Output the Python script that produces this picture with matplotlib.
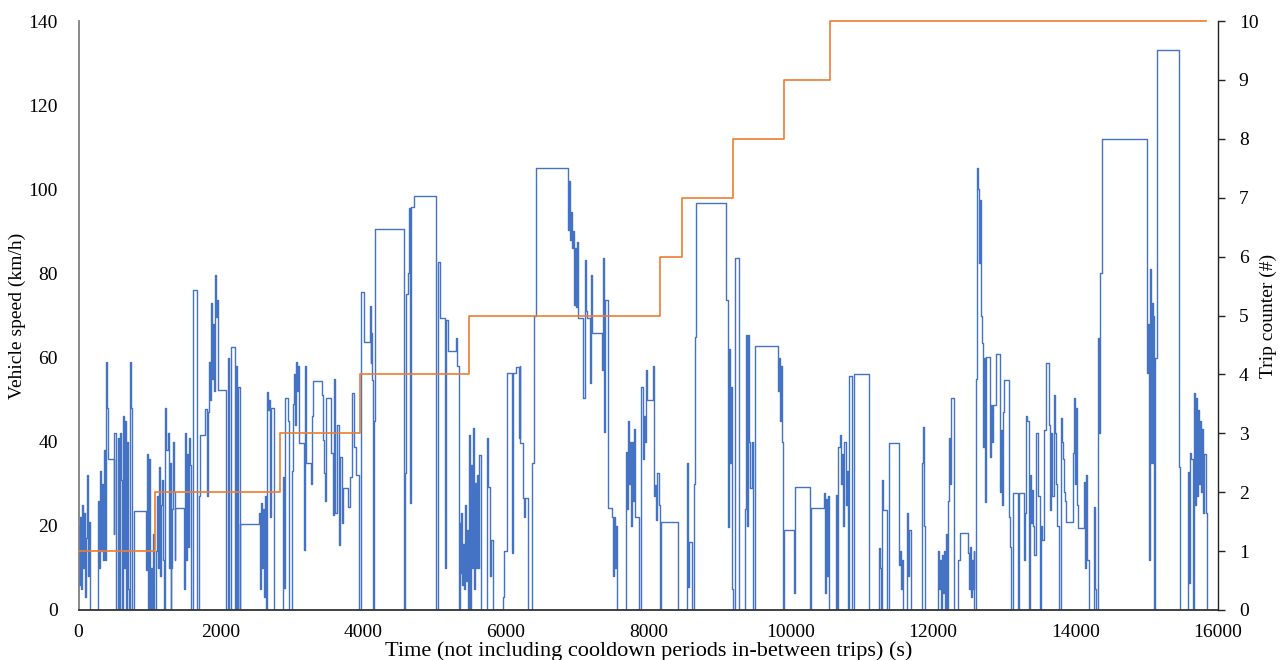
import numpy as np
import matplotlib
matplotlib.use("Agg")
import matplotlib.pyplot as plt

plt.rcParams['font.family'] = ['Liberation Serif', 'DejaVu Serif']

# speed samples per trip: (time s, speed km/h), drawn as steps
trip1 = [(0, 20), (14, 6), (28, 22), (42, 5), (56, 25), (70, 10), (84, 23), (98, 3), (112, 17),
         (126, 32), (140, 8), (154, 21), (168, 0), (268, 26), (282, 10), (296, 33), (310, 14),
         (324, 30), (338, 12), (352, 38), (368, 12), (382, 59), (396, 48), (410, 36), (492, 18),
         (500, 42), (520, 8), (530, 0), (555, 41), (570, 0), (580, 42), (596, 31), (610, 0),
         (625, 46), (640, 10), (655, 45), (670, 0), (685, 40), (700, 5), (712, 0), (725, 59),
         (740, 48), (755, 0), (782, 23.5), (950, 9.5), (963, 37), (975, 0), (990, 36), (1003, 0),
         (1015, 10), (1028, 0), (1040, 18), (1060, 0)]
trip2 = [(1075, 0), (1090, 14), (1105, 27), (1118, 10), (1130, 34), (1145, 8), (1160, 25),
         (1175, 31), (1190, 12), (1205, 0), (1220, 48), (1235, 38), (1250, 42), (1265, 10),
         (1280, 35), (1292, 0), (1300, 10), (1312, 24), (1325, 40), (1338, 28), (1350, 12),
         (1362, 24.2), (1475, 5), (1490, 42), (1505, 12), (1520, 37), (1535, 15), (1550, 41),
         (1565, 34.5), (1580, 0), (1612, 76), (1668, 0), (1690, 27), (1705, 41.5), (1770, 47.8),
         (1800, 27), (1815, 47), (1835, 59), (1850, 50), (1862, 73), (1876, 55), (1890, 68),
         (1904, 52), (1918, 79.6), (1932, 69.7), (1946, 73.7), (1960, 52.3), (2075, 0),
         (2095, 60), (2120, 0), (2135, 62.6), (2195, 0), (2210, 58), (2222, 15), (2232, 0),
         (2245, 53), (2262, 0), (2272, 20.4), (2540, 23), (2553, 5), (2566, 25.4), (2579, 10),
         (2592, 24), (2605, 3), (2618, 27), (2632, 0), (2645, 51.8), (2658, 47.5), (2672, 50),
         (2686, 22), (2700, 48), (2740, 0)]
trip3 = [(2877, 31.7), (2892, 5.2), (2905, 50.4), (2935, 45), (2962, 0), (3000, 33), (3013, 49),
         (3027, 56), (3041, 44), (3055, 59), (3069, 52), (3083, 58), (3097, 39.7), (3169, 14.3),
         (3182, 58), (3196, 35), (3262, 30), (3278, 46), (3295, 54.5), (3421, 51), (3435, 40.4),
         (3450, 32.5), (3464, 26), (3478, 50.4), (3550, 37.3), (3575, 22.6), (3590, 55),
         (3605, 23), (3632, 44), (3660, 15.4), (3674, 36.4), (3700, 20.6), (3716, 29),
         (3787, 24.5), (3815, 31.7), (3845, 51.6), (3870, 38.8), (3900, 32), (3940, 0)]
trip4 = [(3970, 75.6), (4005, 63.7), (4095, 72.3), (4105, 58.7), (4112, 65.8), (4120, 54.7),
         (4130, 0), (4150, 45), (4170, 90.5), (4570, 0), (4580, 32.6), (4600, 75), (4620, 80),
         (4640, 95.5), (4655, 25.4), (4670, 95.8), (4715, 98.4), (5020, 0), (5045, 82.7),
         (5080, 69.4), (5150, 10), (5165, 69), (5185, 61.6), (5300, 64.7), (5315, 58), (5336, 0),
         (5350, 20.7), (5362, 8.7), (5375, 23), (5388, 6), (5400, 15.8), (5413, 5), (5426, 25),
         (5440, 7), (5453, 19), (5470, 0)]
trip5 = [(5487, 41.6), (5500, 0), (5513, 34.5), (5527, 10), (5541, 43.3), (5555, 5), (5569, 30.2),
         (5585, 10), (5599, 32), (5613, 10), (5627, 36.9), (5645, 0), (5739, 41), (5753, 29.3),
         (5782, 8), (5796, 16.6), (5815, 0), (5955, 3), (5975, 14), (6015, 56.3), (6091, 13.5),
         (6105, 56.3), (6150, 57.8), (6185, 41), (6195, 58), (6205, 39.7), (6245, 26.6),
         (6255, 22), (6265, 26.6), (6315, 0), (6370, 35), (6400, 70), (6425, 105), (6873, 90.3),
         (6887, 102), (6900, 88), (6914, 94.6), (6928, 86), (6942, 90), (6952, 72.5), (6966, 86),
         (6980, 72), (6994, 87.5), (7008, 70), (7020, 69.4), (7090, 50.4), (7105, 83.2),
         (7120, 71), (7140, 69.4), (7185, 54), (7200, 79.6), (7210, 65.8), (7350, 57),
         (7365, 83.7), (7380, 42.3), (7395, 73.7), (7440, 24.2), (7497, 22), (7510, 8),
         (7523, 22), (7536, 10), (7550, 20), (7565, 0), (7690, 37.6), (7703, 24), (7716, 45),
         (7730, 30), (7745, 40), (7760, 20), (7775, 40), (7790, 26), (7805, 43), (7820, 22),
         (7875, 0), (7900, 53), (7920, 36), (7935, 46), (7950, 40), (7965, 57), (7985, 50),
         (8072, 58), (8082, 27), (8095, 29.7), (8110, 21.4), (8125, 32.6), (8150, 25), (8165, 0)]
trip6 = [(8180, 21), (8420, 0)]
trip7 = [(8545, 35), (8560, 5.5), (8575, 16.2), (8615, 0), (8640, 30), (8655, 65), (8672, 96.7),
         (9085, 73.7), (9115, 19.8), (9130, 62), (9145, 35), (9160, 53), (9175, 5), (9190, 0)]
trip8 = [(9224, 83.7), (9270, 0), (9360, 24), (9375, 65.4), (9390, 20), (9400, 65.4), (9420, 40),
         (9435, 29), (9450, 40), (9470, 0), (9505, 62.8), (9818, 52), (9832, 60), (9846, 45),
         (9860, 58), (9875, 40), (9890, 0)]
trip9 = [(9905, 19), (10043, 4), (10060, 29.3), (10277, 0), (10291, 24.2), (10464, 27.8),
         (10478, 4), (10492, 26.4), (10506, 8), (10520, 27), (10535, 0)]
trip10 = [(10630, 27.3), (10645, 0), (10660, 38.7), (10690, 41.6), (10710, 30), (10725, 37),
          (10740, 20), (10755, 40), (10770, 25), (10790, 33), (10805, 0), (10825, 55.6),
          (10860, 0), (10885, 56), (11093, 43.5), (11105, 0), (11233, 4), (11247, 14.7),
          (11261, 10), (11275, 0), (11289, 31), (11303, 23.8), (11355, 0), (11374, 39.7),
          (11514, 10.7), (11528, 14), (11542, 5), (11556, 12), (11570, 0), (11640, 23),
          (11654, 8), (11668, 19), (11690, 0), (11837, 35), (11851, 43.5), (11865, 20),
          (11879, 0), (12062, 14), (12076, 5), (12090, 12), (12104, 0), (12118, 13), (12132, 4),
          (12146, 14), (12160, 0), (12174, 18), (12188, 0), (12202, 26), (12216, 41), (12230, 30),
          (12245, 50.4), (12290, 0), (12343, 12), (12371, 18.3), (12484, 13.5), (12498, 5),
          (12512, 15), (12526, 3), (12540, 12), (12554, 5), (12568, 14), (12580, 0), (12595, 55),
          (12610, 105), (12624, 100), (12638, 82.5), (12652, 97.5), (12666, 70), (12680, 63.4),
          (12694, 38.7), (12708, 60), (12722, 25.7), (12736, 60.2), (12793, 36.4), (12807, 48.7),
          (12821, 40), (12835, 48.7), (12878, 60.8), (12934, 28), (12948, 42.8), (12962, 25),
          (12976, 47), (12990, 54.7), (13060, 22), (13074, 15), (13100, 0), (13116, 27.8),
          (13187, 0), (13200, 27.8), (13271, 12), (13285, 23), (13300, 46), (13320, 45),
          (13345, 0), (13355, 32), (13370, 20.7), (13384, 28.5), (13398, 20), (13412, 13),
          (13440, 42), (13470, 27), (13500, 0), (13515, 20), (13530, 16.6), (13550, 42.8),
          (13580, 58.7), (13622, 44), (13636, 23.8), (13650, 42), (13664, 27), (13693, 51),
          (13707, 42), (13721, 30), (13740, 20), (13763, 0), (13791, 45.6), (13805, 40),
          (13819, 36), (13833, 28), (13847, 26), (13861, 21), (13960, 37.3), (13974, 50.4),
          (13988, 30), (14002, 48), (14016, 25), (14030, 19.5), (14114, 30.4), (14128, 10),
          (14142, 32), (14160, 12), (14185, 0), (14255, 24.5), (14270, 5), (14290, 0),
          (14311, 64.7), (14325, 42), (14340, 80), (14367, 112), (15000, 56.3), (15014, 68),
          (15028, 12), (15042, 81), (15056, 35), (15070, 73), (15084, 35), (15092, 70),
          (15098, 0), (15115, 60), (15140, 133), (15450, 34), (15470, 0), (15577, 32.8),
          (15591, 6.4), (15605, 37.3), (15625, 36), (15650, 0), (15661, 51.6), (15675, 25),
          (15689, 50.4), (15703, 27), (15717, 47.5), (15731, 30), (15745, 45), (15759, 28),
          (15773, 43), (15790, 23), (15805, 37), (15830, 23), (15845, 0)]

trip_start_s = [0, 1070, 2826, 3950, 5483, 8170, 8480, 9195, 9900, 10545]
trip_count = [1, 2, 3, 4, 5, 6, 7, 8, 9, 10]
last_trip_end_s = 15830

speed_pts = trip1 + trip2 + trip3 + trip4 + trip5 + trip6 + trip7 + trip8 + trip9 + trip10
time_s = np.array([p[0] for p in speed_pts])
speed_kmh = np.array([p[1] for p in speed_pts])

W, H = 1283, 660
fig = plt.figure(figsize=(W / 100, H / 100), dpi=100)
ax = fig.add_axes([78.5 / W, 50 / H, 1139.5 / W, 589 / H])

ax.plot(time_s, speed_kmh, drawstyle='steps-post', color='#4472C4', lw=1.0)
ax.set_xlim(0, 16000)
ax.set_ylim(0, 140)
ax.set_xticks(np.arange(0, 16001, 2000))
ax.set_yticks(np.arange(0, 141, 20))
ax.tick_params(axis='y', length=0, pad=15, labelsize=14)
ax.tick_params(axis='x', length=0, pad=10, labelsize=14)
for s in ['top', 'right']:
    ax.spines[s].set_visible(False)
ax.spines['left'].set_color('#7f7f7f')
ax.spines['left'].set_linewidth(1.3)
ax.spines['bottom'].set_color('#333333')
ax.spines['bottom'].set_linewidth(1.3)
ax.set_xlabel("Time (not including cooldown periods in-between trips) (s)", fontsize=16, labelpad=0)
ax.set_ylabel("Vehicle speed (km/h)", fontsize=14)
ax.yaxis.set_label_coords(-0.046, 0.5)

ax2 = ax.twinx()
tx = trip_start_s + [last_trip_end_s]
ty = trip_count + [trip_count[-1]]
ax2.plot(tx, ty, drawstyle='steps-post', color='#ED7D31', lw=1.2, clip_on=False)
ax2.set_ylim(0, 10)
ax2.set_yticks(np.arange(0, 11, 1))
ax2.tick_params(axis='y', length=5, width=1, pad=10, labelsize=14, color='#222222')
for s in ['top', 'left', 'bottom']:
    ax2.spines[s].set_visible(False)
ax2.spines['right'].set_color('#222222')
ax2.spines['right'].set_linewidth(1.0)
ax2.set_ylabel("Trip counter (#)", fontsize=14)
ax2.yaxis.set_label_coords(1.037, 0.5)

fig.savefig("out.png", dpi=100)
